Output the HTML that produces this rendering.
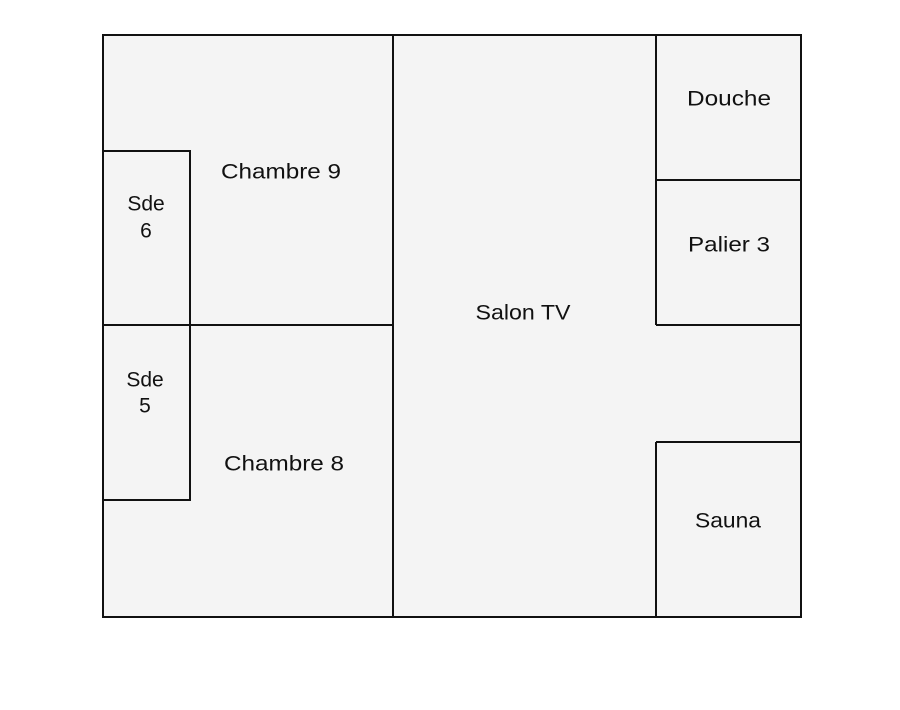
<!DOCTYPE html>
<html><head><meta charset="utf-8"><style>
html,body{margin:0;padding:0;background:#fff;width:900px;height:710px;overflow:hidden}
svg text{font-family:"Liberation Sans",sans-serif;font-size:21px;fill:#111;text-anchor:middle;dominant-baseline:central}
</style></head><body>
<svg width="900" height="710" xmlns="http://www.w3.org/2000/svg">
<rect x="103" y="35" width="698" height="582" fill="#f4f4f4" stroke="#111" stroke-width="2"/>
<g stroke="#111" stroke-width="2" fill="none">
<line x1="393" y1="35" x2="393" y2="617"/>
<line x1="656" y1="35" x2="656" y2="325"/>
<line x1="656" y1="442" x2="656" y2="617"/>
<line x1="656" y1="442" x2="801" y2="442"/>
<line x1="103" y1="325" x2="393" y2="325"/>
<line x1="656" y1="325" x2="801" y2="325"/>
<line x1="656" y1="180" x2="801" y2="180"/>
<polyline points="103,151 190,151 190,500 103,500"/>
</g>
<text x="281" y="172" textLength="120" lengthAdjust="spacingAndGlyphs">Chambre 9</text>
<text x="146" y="204">Sde</text>
<text x="146" y="231">6</text>
<text x="145" y="380">Sde</text>
<text x="145" y="406">5</text>
<text x="284" y="464" textLength="120" lengthAdjust="spacingAndGlyphs">Chambre 8</text>
<text x="523" y="313" textLength="95" lengthAdjust="spacingAndGlyphs">Salon TV</text>
<text x="729" y="99" textLength="84" lengthAdjust="spacingAndGlyphs">Douche</text>
<text x="729" y="245" textLength="82" lengthAdjust="spacingAndGlyphs">Palier 3</text>
<text x="728" y="521" textLength="66" lengthAdjust="spacingAndGlyphs">Sauna</text>
</svg>
</body></html>
